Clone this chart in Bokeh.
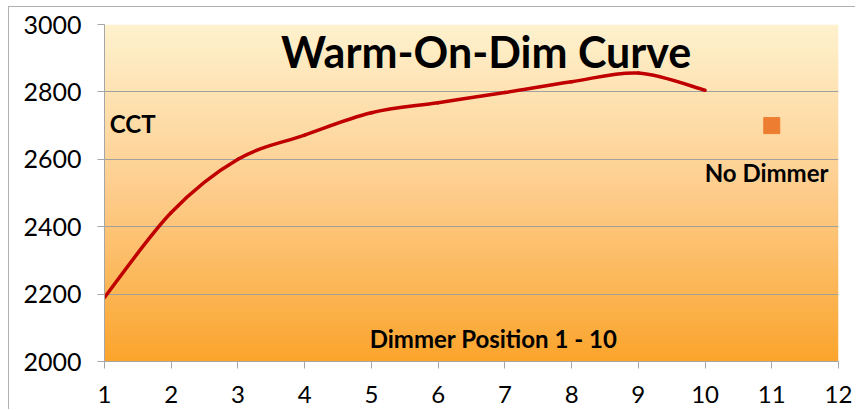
import numpy as np
from bokeh.plotting import figure
from bokeh.models import ColumnDataSource, FixedTicker, Range1d
from bokeh.core.properties import value
from bokeh.embed import file_html
from bokeh.resources import INLINE

# Data
positions = [1, 2, 3, 4, 5, 6, 7, 8, 9, 10]
cct = [2190, 2442, 2600, 2672, 2738, 2768, 2798, 2830, 2856, 2805]
no_dimmer_x = [11]
no_dimmer_y = [2700]
x_ticks = [1, 2, 3, 4, 5, 6, 7, 8, 9, 10, 11, 12]
y_ticks = [2000, 2200, 2400, 2600, 2800, 3000]

FONT = "Lato"

p = figure(width=847, height=403, output_backend="svg", toolbar_location=None,
           x_range=Range1d(1, 12), y_range=Range1d(2000, 3000),
           min_border_left=95, min_border_right=18, min_border_top=17, min_border_bottom=49)
p.outline_line_color = None
p.background_fill_color = None
p.border_fill_color = "white"
p.styles = {"border-left": "1px solid #b0b0b0", "border-top": "1px solid #b0b0b0",
            "margin-left": "8px", "margin-top": "6px"}

# Gradient background of the plot area
stops = np.array([[251, 165, 45], [254, 205, 140], [255, 242, 206]], dtype=float)
n = 200
t = np.linspace(0, 1, n)
r = np.interp(t, [0, 0.5, 1], stops[:, 0])
g = np.interp(t, [0, 0.5, 1], stops[:, 1])
b = np.interp(t, [0, 0.5, 1], stops[:, 2])
img = np.zeros((n, 2), dtype=np.uint32)
view = img.view(dtype=np.uint8).reshape((n, 2, 4))
view[:, :, 0] = r[:, None].astype(np.uint8)
view[:, :, 1] = g[:, None].astype(np.uint8)
view[:, :, 2] = b[:, None].astype(np.uint8)
view[:, :, 3] = 255
bg = p.image_rgba(image=[img], x=1, y=2000, dw=11, dh=1000)
bg.level = "image"

# Smooth curve via Catmull-Rom bezier segments computed from data
xs = np.array(positions, dtype=float)
ys = np.array(cct, dtype=float)
px = np.concatenate([[xs[0]], xs, [xs[-1]]])
py = np.concatenate([[ys[0]], ys, [ys[-1]]])
seg = dict(x0=[], y0=[], x1=[], y1=[], cx0=[], cy0=[], cx1=[], cy1=[])
for i in range(1, len(px) - 2):
    seg["x0"].append(px[i]); seg["y0"].append(py[i])
    seg["x1"].append(px[i + 1]); seg["y1"].append(py[i + 1])
    seg["cx0"].append(px[i] + (px[i + 1] - px[i - 1]) / 6)
    seg["cy0"].append(py[i] + (py[i + 1] - py[i - 1]) / 6)
    seg["cx1"].append(px[i + 1] - (px[i + 2] - px[i]) / 6)
    seg["cy1"].append(py[i + 1] - (py[i + 2] - py[i]) / 6)
p.bezier(x0="x0", y0="y0", x1="x1", y1="y1", cx0="cx0", cy0="cy0", cx1="cx1", cy1="cy1",
         source=ColumnDataSource(seg), line_color="#C00000", line_width=3.5, line_cap="round")

p.scatter(no_dimmer_x, no_dimmer_y, marker="square", size=16, fill_color="#ED7D31",
          line_color="#ED7D31")

# Texts
p.text(x=[6.72], y=[2920], text=["Warm-On-Dim Curve"], text_font=value(FONT),
       text_font_style="bold", text_font_size="43px", text_align="center",
       text_baseline="middle", text_color="black")
p.text(x=[1.08], y=[2705], text=["CCT"], text_font=value(FONT), text_font_style="bold",
       text_font_size="24px", text_align="left", text_baseline="middle", text_color="black")
p.text(x=[11.85], y=[2560], text=["No Dimmer"], text_font=value(FONT), text_font_style="bold",
       text_font_size="24px", text_align="right", text_baseline="middle", text_color="black")
p.text(x=[6.83], y=[2068], text=["Dimmer Position 1 - 10"], text_font=value(FONT),
       text_font_style="bold", text_font_size="24px", text_align="center",
       text_baseline="middle", text_color="black")

# Axes
for ax in (p.xaxis[0], p.yaxis[0]):
    ax.axis_line_color = "#a6a6a6"
    ax.major_tick_line_color = "#a6a6a6"
    ax.minor_tick_line_color = None
    ax.major_tick_in = 0
    ax.major_tick_out = 7
    ax.major_label_text_font = FONT
    ax.major_label_text_font_size = "25px"
    ax.major_label_text_color = "black"
p.xaxis.ticker = FixedTicker(ticks=x_ticks)
p.yaxis.ticker = FixedTicker(ticks=y_ticks)
p.xaxis.major_label_text_font_size = "24px"
p.xaxis.major_label_standoff = 17
p.xaxis.major_label_text_line_height = 0.8
p.yaxis.major_label_standoff = 16

p.xgrid.grid_line_color = None
p.ygrid.ticker = FixedTicker(ticks=y_ticks)
p.ygrid.grid_line_color = "#a0a0a0"
p.ygrid.grid_line_width = 1

open("out.html", "w").write(file_html(p, INLINE))
